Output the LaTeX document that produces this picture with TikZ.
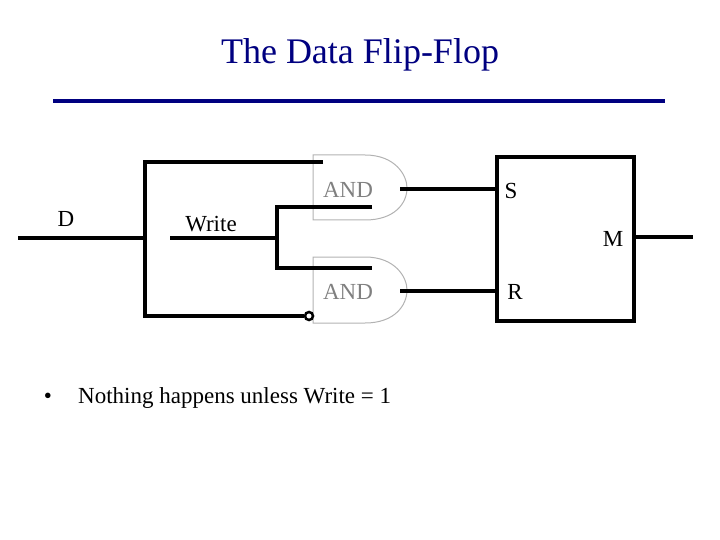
\documentclass[tikz,border=0pt]{standalone}
\usepackage{fontspec}
\setmainfont{Liberation Serif}
\usetikzlibrary{positioning}
\definecolor{navy}{RGB}{0,0,128}
\tikzstyle{wire} = [line width=4.5pt, line cap=butt, line join=miter]
\tikzstyle{gate} = [draw=gray!60, line width=1pt]
\tikzstyle{lbl} = [inner sep=0pt, font=\fontsize{23}{26}\selectfont]
\tikzstyle{glbl} = [lbl, text=gray]
\begin{document}
\begin{tikzpicture}[x=1pt, y=-1pt]
    \useasboundingbox (0,0) rectangle (720,540);

    \node (title) [inner sep=0pt, text=navy, font=\fontsize{36}{40}\selectfont] at (360,55) {The Data Flip-Flop};
    \draw [navy, line width=4pt] (53,101) -- (665,101);

    % gates
    \draw [gate] (313,155) -- (365,155) .. controls (395,155) and (407,175) .. (407,188)
        .. controls (407,203) and (395,220) .. (365,220) -- (313,220) -- cycle;
    \draw [gate] (313,257) -- (365,257) .. controls (395,257) and (407,277) .. (407,290)
        .. controls (407,305) and (395,323) .. (365,323) -- (313,323) -- cycle;
    \node (and1) [glbl] at (348,190) {AND};
    \node (and2) [glbl] at (348,292) {AND};

    % flip-flop box
    \node (ff) [draw, line width=4.5pt, minimum width=137pt, minimum height=164pt, inner sep=0pt] at (565.5,239) {};
    \node (s) [lbl] at (511,191) {S};
    \node (r) [lbl] at (515,292) {R};
    \node (m) [lbl] at (613,239) {M};

    \node (d) [lbl] at (66,219) {D};
    \node (write) [lbl] at (211,224) {Write};

    \coordinate (din) at (18,238);
    \coordinate (dj) at (145,238);
    \coordinate (dtop) at (145,162);
    \coordinate (dbot) at (145,316);
    \coordinate (a1) at (323,162);
    \coordinate (bub) at (309,316);
    \coordinate (win) at (170,238);
    \coordinate (wj) at (277,238);
    \coordinate (a2) at (372,207);
    \coordinate (b2) at (372,268);
    \coordinate (o1) at (400,189);
    \coordinate (o2) at (400,291);
    \coordinate (mout) at (693,237);

    \draw [wire] (din) -- (dj);
    \draw [wire] (a1) -- (dtop) -- (dbot) -- ([xshift=-5pt]bub);
    \draw [draw=black, line width=2.5pt] (bub) circle (4pt);
    \draw [wire] (win) -- (wj);
    \draw [wire] (a2) -- (277,207) -- (277,268) -- (b2);
    \draw [wire] (o1) -- (o1 -| ff.west);
    \draw [wire] (o2) -- (o2 -| ff.west);
    \draw [wire] (mout -| ff.east) -- (mout);

    \node (bullet) [lbl] at (48,398) {\textbullet};
    \node (note) [lbl, anchor=west] at (78,398) {Nothing happens unless Write = 1};
\end{tikzpicture}
\end{document}
